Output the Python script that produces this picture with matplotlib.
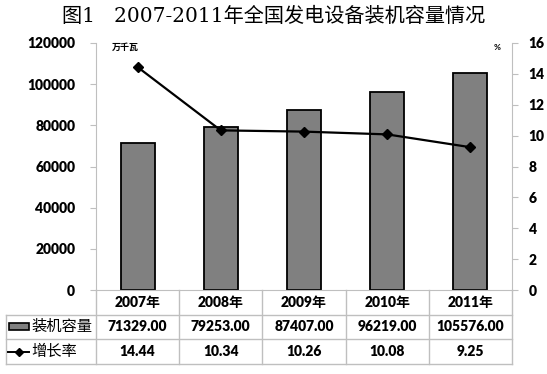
import matplotlib
matplotlib.use("Agg")
import matplotlib.pyplot as plt
from matplotlib.lines import Line2D
from matplotlib.patches import Rectangle
import numpy as np

plt.rcParams['font.family'] = ['Lato', 'Noto Sans CJK SC', 'DejaVu Sans']

title = "图1   2007-2011年全国发电设备装机容量情况"
years = ["2007年", "2008年", "2009年", "2010年", "2011年"]
capacity = [71329.00, 79253.00, 87407.00, 96219.00, 105576.00]
growth = [14.44, 10.34, 10.26, 10.08, 9.25]
series_names = ["装机容量", "增长率"]
left_unit = "万千瓦"
right_unit = "%"
left_ticks = [0, 20000, 40000, 60000, 80000, 100000, 120000]
right_ticks = [0, 2, 4, 6, 8, 10, 12, 14, 16]

W, H = 547, 374
fig = plt.figure(figsize=(W / 100, H / 100), dpi=100)

def fx(px):
    return px / W

def fy(py):
    return 1 - py / H

NUM_FS = 10
ax_l, ax_r, ax_t, ax_b = 96, 512, 43, 290
ax = fig.add_axes([fx(ax_l), fy(ax_b), fx(ax_r) - fx(ax_l), fy(ax_t) - fy(ax_b)])
x = np.arange(len(years))
bar_col = '#808080'
ax.bar(x, capacity, width=0.41, color=bar_col, edgecolor='black', linewidth=1.3, zorder=2)
ax.set_xlim(-0.5, len(years) - 0.5)
ax.set_ylim(0, 120000)
ax.set_yticks(left_ticks)
ax.set_yticklabels([str(v) for v in left_ticks], fontsize=NUM_FS, fontweight='heavy')
ax.set_xticks([])
grey = '#bfbfbf'
for s in ['top', 'right']:
    ax.spines[s].set_visible(False)
ax.spines['left'].set_color(grey)
ax.spines['bottom'].set_color(grey)
ax.tick_params(axis='y', direction='out', length=4, color=grey, pad=11)

ax2 = ax.twinx()
ax2.plot(x, growth, color='black', linewidth=1.6, marker='D', markersize=5.5, zorder=3)
ax2.set_ylim(0, 16)
ax2.set_yticks(right_ticks)
ax2.set_yticklabels([str(v) for v in right_ticks], fontsize=NUM_FS, fontweight='heavy')
for s in ['top', 'left', 'bottom']:
    ax2.spines[s].set_visible(False)
ax2.spines['right'].set_color(grey)
ax2.tick_params(axis='y', direction='out', length=4, color=grey, pad=8)
ax2.set_xlim(-0.5, len(years) - 0.5)

# Title and unit labels
fig.text(0.5, fy(16), title, ha='center', va='center', fontsize=14.5,
         family=['DejaVu Serif', 'Noto Sans CJK SC'])
fig.text(fx(112), fy(47), left_unit, ha='left', va='center', fontsize=6.5,
         family=['Noto Sans CJK SC', 'DejaVu Sans'], fontweight='bold')
fig.text(fx(497), fy(47), right_unit, ha='center', va='center', fontsize=6,
         fontweight='bold')

# Data table
row_tops = [290, 314.5, 339, 364]
col_w = (ax_r - ax_l) / len(years)
col_edges = [ax_l + i * col_w for i in range(len(years) + 1)]
tab_left = 6

def hline(y, x0, x1):
    fig.add_artist(Line2D([fx(x0), fx(x1)], [fy(y), fy(y)], color=grey, linewidth=1.0))

def vline(xp, y0, y1):
    fig.add_artist(Line2D([fx(xp), fx(xp)], [fy(y0), fy(y1)], color=grey, linewidth=1.0))

hline(row_tops[1], tab_left, ax_r)
hline(row_tops[2], tab_left, ax_r)
hline(row_tops[3], tab_left, ax_r)
for i, xe in enumerate(col_edges):
    vline(xe, row_tops[0], row_tops[3])
vline(tab_left, row_tops[1], row_tops[3])

for i, yr in enumerate(years):
    cx = (col_edges[i] + col_edges[i + 1]) / 2
    fig.text(fx(cx), fy((row_tops[0] + row_tops[1]) / 2), yr, ha='center', va='center',
             fontsize=NUM_FS, fontweight='heavy')
    fig.text(fx(cx), fy((row_tops[1] + row_tops[2]) / 2), f"{capacity[i]:.2f}", ha='center',
             va='center', fontsize=NUM_FS, fontweight='heavy')
    fig.text(fx(cx), fy((row_tops[2] + row_tops[3]) / 2), f"{growth[i]:.2f}", ha='center',
             va='center', fontsize=NUM_FS, fontweight='heavy')

# legend keys
r1 = (row_tops[1] + row_tops[2]) / 2
r2 = (row_tops[2] + row_tops[3]) / 2
fig.add_artist(Rectangle((fx(9), fy(r1 + 3.5)), fx(20), fy(0) - fy(7), transform=fig.transFigure,
                         facecolor=bar_col, edgecolor='black', linewidth=1.2))
fig.add_artist(Line2D([fx(8), fx(29)], [fy(r2), fy(r2)], color='black', linewidth=1.4,
                      marker=None))
fig.add_artist(Line2D([fx(18.5)], [fy(r2)], color='black', marker='D', markersize=4.5,
                      linestyle='none'))
fig.text(fx(31), fy(r1), series_names[0], ha='left', va='center', fontsize=11,
         family=['Noto Sans CJK SC', 'DejaVu Sans'])
fig.text(fx(31), fy(r2), series_names[1], ha='left', va='center', fontsize=11,
         family=['Noto Sans CJK SC', 'DejaVu Sans'])

fig.savefig('out.png', dpi=100)
